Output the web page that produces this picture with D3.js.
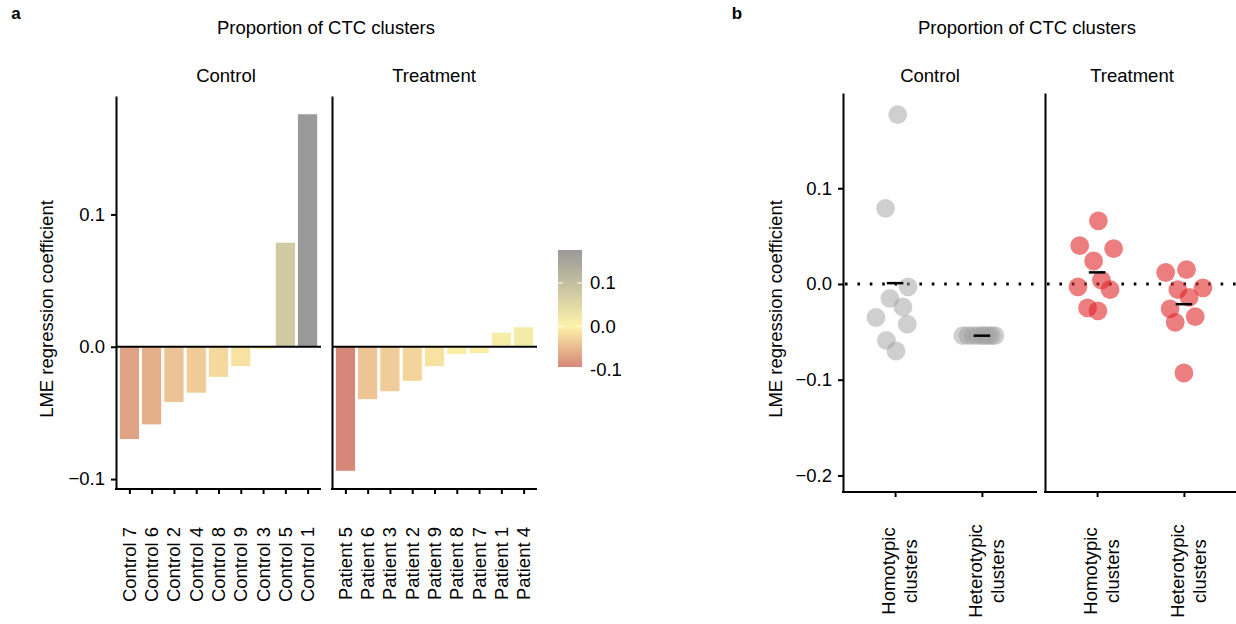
<!DOCTYPE html>
<html>
<head>
<meta charset="utf-8">
<script src="https://cdn.jsdelivr.net/npm/d3@7"></script>
<style>
  body { margin: 0; background: #fff; }
  svg text { font-family: "Liberation Sans", Arial, sans-serif; fill: #000; }
</style>
</head>
<body>
<svg id="fig" width="1236" height="624"></svg>
<script>
// ---- panel a data (bars) ----
var controlLabels = ["Control 7", "Control 6", "Control 2", "Control 4", "Control 8", "Control 9", "Control 3", "Control 5", "Control 1"];
var controlValues = [-0.070, -0.059, -0.042, -0.035, -0.023, -0.015, -0.002, 0.079, 0.176];
var patientLabels = ["Patient 5", "Patient 6", "Patient 3", "Patient 2", "Patient 9", "Patient 8", "Patient 7", "Patient 1", "Patient 4"];
var patientValues = [-0.094, -0.040, -0.034, -0.026, -0.015, -0.006, -0.005, 0.011, 0.015];
var barTicks = [-0.1, 0.0, 0.1];
var legendTicks = [0.1, 0.0, -0.1];

// ---- panel b data (points) ----
var clusterTypes = [["Homotypic", "clusters"], ["Heterotypic", "clusters"]];
var ctrlHomoValues = [0.177, 0.079, -0.003, -0.015, -0.024, -0.035, -0.042, -0.059, -0.070];
var ctrlHomoJitter = [0.03, -0.11, 0.15, -0.06, 0.09, -0.22, 0.14, -0.10, 0.01];
var ctrlHeteroValues = [-0.054, -0.054, -0.054, -0.054, -0.054, -0.054, -0.054, -0.054, -0.054];
var ctrlHeteroJitter = [-0.22, -0.16, -0.10, -0.05, 0.0, 0.03, 0.07, 0.11, 0.15];
var trtHomoValues = [0.066, 0.040, 0.037, 0.024, 0.004, -0.003, -0.006, -0.025, -0.028];
var trtHomoJitter = [0.015, -0.20, 0.19, -0.04, 0.05, -0.22, 0.15, -0.11, 0.01];
var trtHeteroValues = [0.012, 0.015, -0.006, -0.004, -0.014, -0.026, -0.034, -0.040, -0.093];
var trtHeteroJitter = [-0.21, 0.03, -0.07, 0.22, 0.06, -0.16, 0.13, -0.10, 0.0];
var pointTicks = [-0.2, -0.1, 0.0, 0.1];

var FS = 18.5;
var svg = d3.select("#fig");
// d3 v7 already gives a true minus sign for negatives
var axisFmt = d3.format(".1f");
var legendFmt = function (v) { return d3.format(".1f")(v).replace("\u2212", "-"); };

function styleAxis(g) {
	g.select(".domain").attr("stroke", "#000").attr("stroke-width", 2);
	g.selectAll(".tick line").attr("stroke", "#000").attr("stroke-width", 2);
	g.selectAll(".tick text").attr("font-size", FS).attr("fill", "#000");
}

function addText(x, y, txt, opt) {
	opt = opt || {};
	return svg.append("text")
		.attr("x", x).attr("y", y)
		.attr("text-anchor", opt.anchor || "middle")
		.attr("font-size", opt.size || FS)
		.attr("font-weight", opt.weight || "normal")
		.text(txt);
}

// BEGIN panel a
var allBars = controlValues.concat(patientValues, [0]);
var ext = d3.extent(allBars);
var pad = (ext[1] - ext[0]) * 0.05;
var yA = d3.scaleLinear().domain([ext[0] - pad, ext[1] + pad]).range([489, 96]);

var colorLo = d3.min(allBars), colorHi = d3.max(allBars);
var fill = d3.scaleLinear()
	.domain([colorLo, 0, colorHi])
	.range(["#d5877a", "#fdf3a9", "#999999"])
	.interpolate(d3.interpolateLab);

function buildBarPanel(x0, width, labels, values, showY) {
	var x = d3.scalePoint().domain(labels).range([x0, x0 + width]).padding(0.6);
	var bw = x.step() * 0.9;
	var g = svg.append("g");

	g.selectAll("rect").data(values).enter().append("rect")
		.attr("x", function (d, i) { return x(labels[i]) - bw / 2; })
		.attr("width", bw)
		.attr("y", function (d) { return yA(Math.max(0, d)); })
		.attr("height", function (d) { return Math.abs(yA(d) - yA(0)); })
		.attr("fill", function (d) { return fill(d); })
		.attr("stroke", "#fff").attr("stroke-width", 0.8);

	// zero line
	g.append("line")
		.attr("x1", x0).attr("x2", x0 + width)
		.attr("y1", yA(0)).attr("y2", yA(0))
		.attr("stroke", "#000").attr("stroke-width", 2);

	var ya = d3.axisLeft(yA).tickValues(showY ? barTicks : []).tickSize(5).tickSizeOuter(0)
		.tickPadding(6).tickFormat(axisFmt);
	g.append("g").attr("transform", "translate(" + x0 + ",0)").call(ya).call(styleAxis);

	var xa = d3.axisBottom(x).tickSize(5).tickSizeOuter(0).tickFormat("");
	g.append("g").attr("transform", "translate(0," + yA.range()[0] + ")").call(xa).call(styleAxis)
		.select(".domain").attr("d", "M" + (x0 - 1) + ",0H" + (x0 + width));

	labels.forEach(function (l) {
		svg.append("text")
			.attr("transform", "translate(" + x(l) + ",527) rotate(-90)")
			.attr("text-anchor", "end")
			.attr("dy", "0.35em")
			.attr("font-size", FS)
			.text(l);
	});
}

buildBarPanel(116, 205, controlLabels, controlValues, true);
buildBarPanel(332, 205, patientLabels, patientValues, false);

addText(16, 19, "a", { weight: "bold", size: 17 });
addText(326, 34, "Proportion of CTC clusters");
addText(226, 82, "Control");
addText(434, 82, "Treatment");
svg.append("text")
	.attr("transform", "translate(53,309) rotate(-90)")
	.attr("text-anchor", "middle").attr("font-size", FS)
	.text("LME regression coefficient");

// colour bar legend
var lgY = d3.scaleLinear().domain([colorLo, colorHi]).range([367, 250]);
var defs = svg.append("defs");
var grad = defs.append("linearGradient").attr("id", "lg")
	.attr("x1", 0).attr("y1", 1).attr("x2", 0).attr("y2", 0);
d3.range(0, 1.0001, 0.05).forEach(function (t) {
	grad.append("stop").attr("offset", t)
		.attr("stop-color", fill(colorLo + t * (colorHi - colorLo)));
});
svg.append("rect").attr("x", 558).attr("y", 250).attr("width", 24).attr("height", 117)
	.attr("fill", "url(#lg)");
legendTicks.forEach(function (v) {
	if (v > colorLo && v < colorHi) {
		[[558, 563], [577, 582]].forEach(function (s) {
			svg.append("line").attr("x1", s[0]).attr("x2", s[1])
				.attr("y1", lgY(v)).attr("y2", lgY(v))
				.attr("stroke", "#fff").attr("stroke-width", 1);
		});
	}
	addText(590, lgY(v), legendFmt(v), { anchor: "start" }).attr("dy", "0.35em");
});
// END panel a

// BEGIN panel b
var yB = d3.scaleLinear().domain([-0.2173, 0.1995]).range([492, 93]);

function buildPointPanel(x0, width, groups, color, alpha, showY) {
	var x = d3.scalePoint().domain([0, 1]).range([x0, x0 + width]).padding(0.6);
	var unit = x.step();
	var g = svg.append("g");

	// dotted zero line
	g.append("line")
		.attr("x1", x0 + 2).attr("x2", x0 + width + 2)
		.attr("y1", yB(0)).attr("y2", yB(0))
		.attr("stroke", "#000").attr("stroke-width", 3)
		.attr("stroke-dasharray", "2.6 9.8");

	groups.forEach(function (grp, k) {
		g.selectAll(null).data(grp.values).enter().append("circle")
			.attr("cx", function (d, i) { return x(k) + grp.jitter[i] * unit; })
			.attr("cy", function (d) { return yB(d); })
			.attr("r", 9.4)
			.attr("fill", color)
			.attr("fill-opacity", alpha);
		var m = d3.mean(grp.values);
		g.append("line")
			.attr("x1", x(k) - 0.095 * unit).attr("x2", x(k) + 0.095 * unit)
			.attr("y1", yB(m)).attr("y2", yB(m))
			.attr("stroke", "#000").attr("stroke-width", 2.5);
	});

	var ya = d3.axisLeft(yB).tickValues(showY ? pointTicks : []).tickSize(5).tickSizeOuter(0)
		.tickPadding(6).tickFormat(axisFmt);
	g.append("g").attr("transform", "translate(" + x0 + ",0)").call(ya).call(styleAxis);

	var xa = d3.axisBottom(x).tickSize(5).tickSizeOuter(0).tickFormat("");
	g.append("g").attr("transform", "translate(0," + yB.range()[0] + ")").call(xa).call(styleAxis)
		.select(".domain").attr("d", "M" + (x0 - 1) + ",0H" + (x0 + width + 3));

	clusterTypes.forEach(function (lines, k) {
		var t = svg.append("text")
			.attr("transform", "translate(" + x(k) + ",571) rotate(-90)")
			.attr("text-anchor", "middle")
			.attr("font-size", FS);
		lines.forEach(function (l, j) {
			t.append("tspan").attr("x", 0).attr("y", j * 22).text(l);
		});
	});
}

buildPointPanel(843, 191, [
	{ values: ctrlHomoValues, jitter: ctrlHomoJitter },
	{ values: ctrlHeteroValues, jitter: ctrlHeteroJitter }
], "#a0a0a0", 0.5, true);
buildPointPanel(1045, 191, [
	{ values: trtHomoValues, jitter: trtHomoJitter },
	{ values: trtHeteroValues, jitter: trtHeteroJitter }
], "#e0282c", 0.6, false);

addText(737, 19, "b", { weight: "bold", size: 17 });
addText(1027, 34, "Proportion of CTC clusters");
addText(930, 82, "Control");
addText(1132, 82, "Treatment");
svg.append("text")
	.attr("transform", "translate(782,309) rotate(-90)")
	.attr("text-anchor", "middle").attr("font-size", FS)
	.text("LME regression coefficient");
// END panel b
</script>
</body>
</html>
